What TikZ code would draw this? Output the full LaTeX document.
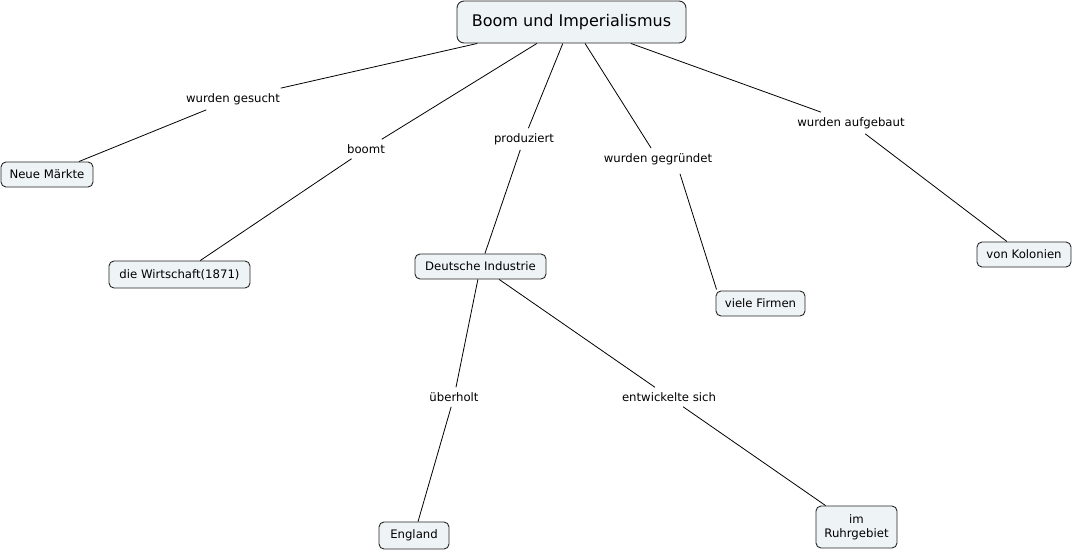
\documentclass[tikz,border=0pt]{standalone}
\usepackage{fontspec}
\setmainfont{DejaVu Sans}
\usetikzlibrary{positioning}
\definecolor{boxfill}{HTML}{EEF3F5}
\tikzset{
  concept/.style={draw=black!85, line width=0.9pt, rectangle, rounded corners=5pt, fill=boxfill, align=center, font=\fontsize{11.7}{14}\selectfont, inner sep=3pt, minimum height=25pt},
  topic/.style={draw=black!85, line width=0.9pt, rectangle, rounded corners=7pt, fill=boxfill, align=center, font=\fontsize{16}{19}\selectfont, minimum width=229pt, minimum height=42pt},
  lbl/.style={align=center, font=\fontsize{11.7}{14}\selectfont, inner sep=5pt},
  link/.style={line width=0.8pt, black},
}
\begin{document}
\begin{tikzpicture}[x=1pt,y=-1pt]
\useasboundingbox (0,0) rectangle (1073,552);
% concepts
\node[topic] (boom) at (571.5,22) {Boom und Imperialismus};
\node[concept, minimum width=92pt] (maerkte) at (47,174.5) {Neue Märkte};
\node[concept, minimum width=141pt, minimum height=27pt] (wirtschaft) at (179.5,274.5) {die Wirtschaft(1871)};
\node[concept, minimum width=131pt] (industrie) at (480.5,266.5) {Deutsche Industrie};
\node[concept, minimum width=89pt] (firmen) at (760.5,303.5) {viele Firmen};
\node[concept, minimum width=94pt] (kolonien) at (1024,254.5) {von Kolonien};
\node[concept, minimum width=70pt, minimum height=27pt] (england) at (414,535.5) {England};
\node[concept, minimum width=81pt, minimum height=42pt] (ruhr) at (856.5,527) {im\\Ruhrgebiet};
% linking phrases
\node[lbl] (gesucht) at (233,99) {wurden gesucht};
\node[lbl] (boomt) at (366,149) {boomt};
\node[lbl] (produziert) at (524,139) {produziert};
\node[lbl] (gegruendet) at (658,159) {wurden gegründet};
\node[lbl] (aufgebaut) at (851,123) {wurden aufgebaut};
\node[lbl] (ueberholt) at (454,397) {überholt};
\node[lbl] (entwickelte) at (669,397) {entwickelte sich};
% links
\draw[link] (boom) -- (gesucht) -- (maerkte);
\draw[link] (boom) -- (boomt) -- (wirtschaft);
\draw[link] (boom) -- (produziert) -- (industrie);
\draw[link] (boom) -- (gegruendet);
\draw[link] ([xshift=22pt,yshift=-4pt]gegruendet.south) -- ([xshift=1pt,yshift=1pt]firmen.north west);
\draw[link] (boom) -- (aufgebaut) -- (kolonien);
\draw[link] (industrie) -- (ueberholt) -- (england);
\draw[link] (industrie) -- (entwickelte) -- (ruhr);
\end{tikzpicture}
\end{document}
